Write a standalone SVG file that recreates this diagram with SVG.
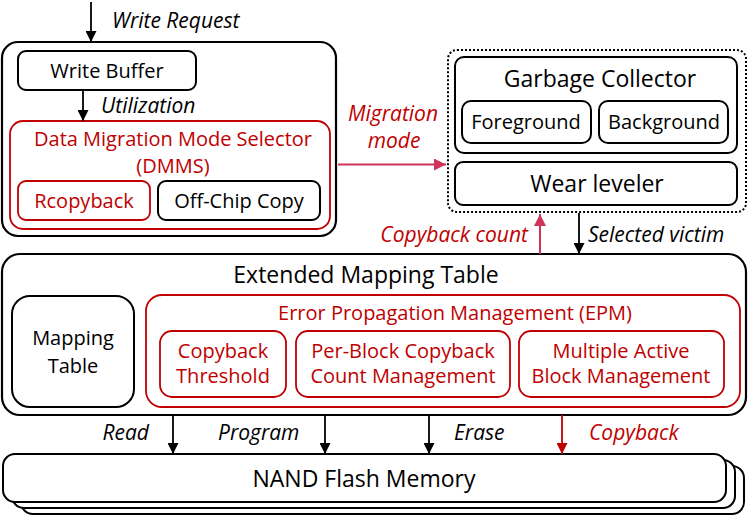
<svg xmlns="http://www.w3.org/2000/svg" width="748" height="518" viewBox="0 0 748 518">
<defs>
<marker id="ab" viewBox="0 0 10 10" refX="10" refY="5" markerWidth="11" markerHeight="11" markerUnits="userSpaceOnUse" orient="auto"><path d="M0,0 L10,5 L0,10 z" fill="#000"/></marker>
<marker id="ar" viewBox="0 0 10 10" refX="10" refY="5" markerWidth="11" markerHeight="11" markerUnits="userSpaceOnUse" orient="auto"><path d="M0,0 L10,5 L0,10 z" fill="#C00000"/></marker>
<marker id="ap" viewBox="0 0 10 10" refX="10" refY="5" markerWidth="12" markerHeight="12" markerUnits="userSpaceOnUse" orient="auto"><path d="M0,0 L10,5 L0,10 z" fill="#D0345A"/></marker>
</defs>
<style>
text{font-family:"Open Sans","Noto Sans",sans-serif;fill:#000;}
.t20{font-size:20px;text-anchor:middle;}
.t23{font-size:23px;text-anchor:middle;}
.it{font-size:21px;font-style:italic;}
.red{fill:#C00000;}
.bk{fill:#fff;stroke:#000;stroke-width:2;}
.bo{fill:#fff;stroke:#000;stroke-width:2.2;}
.rb{fill:none;stroke:#C00000;stroke-width:1.8;}
.dot{fill:none;stroke:#000;stroke-width:2;stroke-dasharray:2 2;}
.cb{stroke:#000;stroke-width:1.8;fill:none;}
.cr{stroke:#C00000;stroke-width:1.8;fill:none;}
.cp{stroke:#D0345A;stroke-width:2;fill:none;}
</style>

<g id="ftl-write">
<rect class="bo" x="2" y="42" width="334" height="194" rx="16"/>
<g id="write-buffer"><rect class="bk" x="18" y="51" width="178" height="39" rx="8"/><text class="t20" x="107" y="78">Write Buffer</text></g>
<g id="dmms"><rect class="rb" x="10" y="121" width="320" height="108" rx="13"/>
<text class="t20 red" x="173" y="146">Data Migration Mode Selector</text>
<text class="t20 red" x="173" y="173">(DMMS)</text></g>
<g id="rcopyback"><rect class="rb" x="18" y="181" width="132" height="39" rx="8"/><text class="t20 red" x="84" y="208">Rcopyback</text></g>
<g id="offchip"><rect class="bk" x="158" y="181" width="162" height="39" rx="8"/><text class="t20" x="239" y="208">Off-Chip Copy</text></g>
</g>

<g id="gc-wl">
<rect class="dot" x="448" y="50" width="298" height="162" rx="9"/>
<g id="garbage-collector"><rect class="bk" x="455" y="57" width="282" height="96" rx="9"/><text class="t23" x="600" y="87">Garbage Collector</text></g>
<g id="foreground"><rect class="bk" x="462" y="101" width="129" height="42" rx="9"/><text class="t20" x="526" y="129">Foreground</text></g>
<g id="background"><rect class="bk" x="599" y="101" width="129" height="42" rx="9"/><text class="t20" x="664" y="129">Background</text></g>
<g id="wear-leveler"><rect class="bk" x="455" y="162" width="282" height="43" rx="8"/><text class="t23" x="597" y="192">Wear leveler</text></g>
</g>

<g id="emt">
<rect class="bo" x="2" y="254" width="744" height="161" rx="18"/>
<text class="t23" x="366" y="283">Extended Mapping Table</text>
<g id="mapping-table"><rect class="bk" x="12" y="296" width="122" height="111" rx="18"/><text class="t20" x="73" y="345">Mapping</text><text class="t20" x="73" y="373">Table</text></g>
<g id="epm"><rect class="rb" x="146" y="295" width="594" height="112" rx="16"/><text class="t20 red" x="455" y="320">Error Propagation Management (EPM)</text></g>
<g id="copyback-threshold"><rect class="rb" x="160" y="331" width="126" height="66" rx="12"/><text class="t20 red" x="223" y="358">Copyback</text><text class="t20 red" x="223" y="383">Threshold</text></g>
<g id="per-block"><rect class="rb" x="296" y="331" width="214" height="66" rx="12"/><text class="t20 red" x="403" y="358">Per-Block Copyback</text><text class="t20 red" x="403" y="383">Count Management</text></g>
<g id="multi-active"><rect class="rb" x="519" y="331" width="205" height="66" rx="12"/><text class="t20 red" x="621" y="358">Multiple Active</text><text class="t20 red" x="621" y="383">Block Management</text></g>
</g>

<g id="nand">
<rect class="bk" x="21" y="466" width="723" height="48" rx="12"/>
<rect class="bk" x="12" y="460" width="723" height="48" rx="12"/>
<rect class="bk" x="3" y="454" width="723" height="48" rx="12"/>
<text class="t23" x="364" y="487">NAND Flash Memory</text>
</g>

<g id="connectors">
<line class="cb" x1="91" y1="2" x2="91" y2="42" marker-end="url(#ab)"/>
<line class="cb" x1="83" y1="90" x2="83" y2="121" marker-end="url(#ab)"/>
<line class="cp" x1="338" y1="164.5" x2="446" y2="164.5" marker-end="url(#ap)"/>
<line class="cp" x1="540" y1="254" x2="540" y2="214" marker-end="url(#ap)"/>
<line class="cb" x1="579" y1="213" x2="579" y2="254" marker-end="url(#ab)"/>
<line class="cb" x1="173" y1="415" x2="173" y2="454" marker-end="url(#ab)"/>
<line class="cb" x1="325" y1="415" x2="325" y2="454" marker-end="url(#ab)"/>
<line class="cb" x1="429" y1="415" x2="429" y2="454" marker-end="url(#ab)"/>
<line class="cr" x1="562" y1="415" x2="562" y2="454" marker-end="url(#ar)"/>
</g>

<g id="labels">
<text class="it" x="112" y="28">Write Request</text>
<text class="it" x="101" y="113">Utilization</text>
<text class="it red" x="393" y="121" text-anchor="middle">Migration</text>
<text class="it red" x="394" y="148" text-anchor="middle">mode</text>
<text class="it red" x="528" y="242" text-anchor="end">Copyback count</text>
<text class="it" x="588" y="242">Selected victim</text>
<text class="it" x="149" y="440" text-anchor="end">Read</text>
<text class="it" x="218" y="440">Program</text>
<text class="it" x="454" y="440">Erase</text>
<text class="it red" x="589" y="440">Copyback</text>
</g>
</svg>
